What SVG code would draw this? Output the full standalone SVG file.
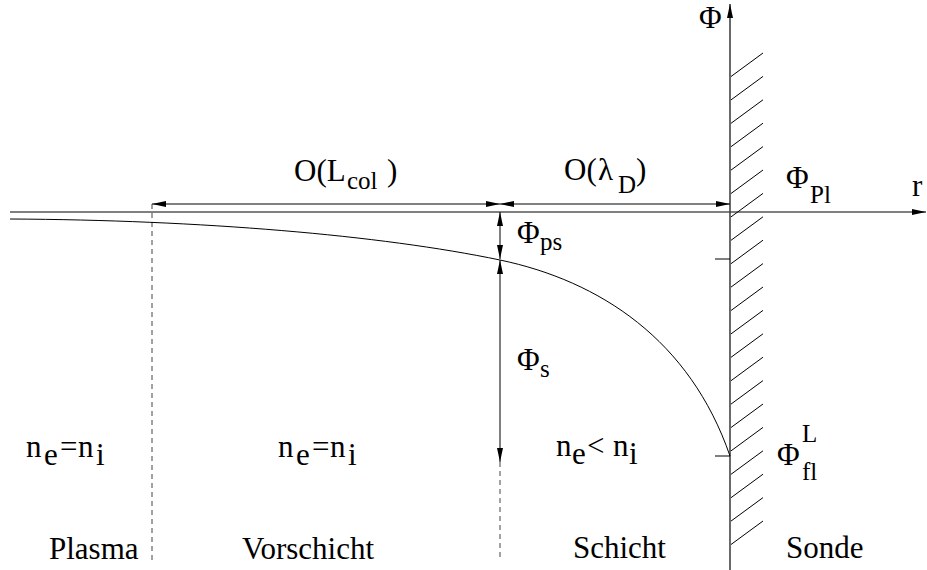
<svg xmlns="http://www.w3.org/2000/svg" width="927" height="570" viewBox="0 0 927 570">
<style>
.t{font-family:"Liberation Serif","Times New Roman",serif;font-size:31px;fill:#000}
.s{font-size:25px}
.ln{stroke:#000;stroke-width:1;fill:none}
.dash{stroke:#444;stroke-width:1;stroke-dasharray:5 4;fill:none}
.ax{stroke:#444;stroke-width:1.6;fill:none}
.h{stroke:#000;stroke-width:1;fill:none}
</style>
<defs>
<marker id="ah" viewBox="0 0 14 6" refX="14" refY="3" markerWidth="14" markerHeight="6" markerUnits="userSpaceOnUse" orient="auto-start-reverse">
<path d="M0,0 L14,3 L0,6 z" fill="#000"/>
</marker>
</defs>
<g id="connectors">
<line id="r-axis" class="ln" x1="10" y1="212" x2="926" y2="212" marker-end="url(#ah)"/>
<line id="phi-axis" class="ax" x1="730" y1="570" x2="730" y2="4" marker-end="url(#ah)"/>
<line id="dim-lcol" class="ln" x1="152" y1="204" x2="500" y2="204" marker-start="url(#ah)" marker-end="url(#ah)"/>
<line id="dim-lambda" class="ln" x1="500" y1="204" x2="730" y2="204" marker-start="url(#ah)" marker-end="url(#ah)"/>
<line id="dim-phips" class="ln" x1="500" y1="212" x2="500" y2="259" marker-start="url(#ah)" marker-end="url(#ah)"/>
<line id="dim-phis" class="ln" x1="500" y1="260" x2="500" y2="462" marker-start="url(#ah)" marker-end="url(#ah)"/>
<line class="dash" x1="152" y1="204" x2="152" y2="560"/>
<line class="dash" x1="500" y1="462" x2="500" y2="560"/>
<line class="ln" x1="715" y1="259" x2="730" y2="259"/>
<line class="ln" x1="715" y1="456" x2="730" y2="456"/>
<path id="potential" class="ln" d="M10,219 C200,220 380,235 500,260 C600,281 690,340 730,456"/>
</g>
<g id="probe-hatch">
<path class="h" d="M731,76.5 l32,-23.5 M731,99.9 l32,-23.5 M731,123.3 l32,-23.5 M731,146.7 l32,-23.5 M731,170.1 l32,-23.5 M731,193.5 l32,-23.5 M731,216.9 l32,-23.5 M731,240.3 l32,-23.5 M731,263.7 l32,-23.5 M731,287.1 l32,-23.5 M731,310.5 l32,-23.5 M731,333.9 l32,-23.5 M731,357.3 l32,-23.5 M731,380.7 l32,-23.5 M731,404.1 l32,-23.5 M731,427.5 l32,-23.5 M731,450.9 l32,-23.5 M731,474.3 l32,-23.5 M731,497.7 l32,-23.5 M731,521.1 l32,-23.5 M731,544.5 l32,-23.5"/>
</g>
<g id="labels">
<text class="t" x="699" y="28">Φ</text>
<text class="t" x="912" y="196">r</text>
<text class="t"><tspan x="786" y="188">Φ</tspan><tspan class="s" x="810" y="203">Pl</tspan></text>
<text class="t"><tspan x="294" y="181">O(L</tspan><tspan class="s" x="347" y="189">col</tspan><tspan x="387" y="181">)</tspan></text>
<text class="t"><tspan x="564" y="180">O(</tspan><tspan x="598" y="180">λ</tspan><tspan class="s" x="618" y="193">D</tspan><tspan x="636" y="180">)</tspan></text>
<text class="t"><tspan x="517" y="243">Φ</tspan><tspan class="s" x="540" y="250">ps</tspan></text>
<text class="t"><tspan x="517" y="370">Φ</tspan><tspan class="s" x="540" y="377">s</tspan></text>
<text class="t"><tspan x="777" y="465">Φ</tspan><tspan class="s" x="802" y="480">fl</tspan><tspan class="s" x="802" y="442">L</tspan></text>
<text class="t"><tspan x="26" y="457">n</tspan><tspan x="44" y="465">e</tspan><tspan x="60" y="457">=</tspan><tspan x="78" y="457">n</tspan><tspan x="96" y="465">i</tspan></text>
<text class="t"><tspan x="278" y="457">n</tspan><tspan x="296" y="465">e</tspan><tspan x="312" y="457">=</tspan><tspan x="330" y="457">n</tspan><tspan x="348" y="465">i</tspan></text>
<text class="t"><tspan x="556" y="456">n</tspan><tspan x="572" y="464">e</tspan><tspan x="587" y="456">&lt;</tspan><tspan x="613" y="456">n</tspan><tspan x="629" y="464">i</tspan></text>
<text class="t" x="49" y="559">Plasma</text>
<text class="t" x="242" y="559">Vorschicht</text>
<text class="t" x="573" y="558">Schicht</text>
<text class="t" x="786" y="558">Sonde</text>
</g>
</svg>
